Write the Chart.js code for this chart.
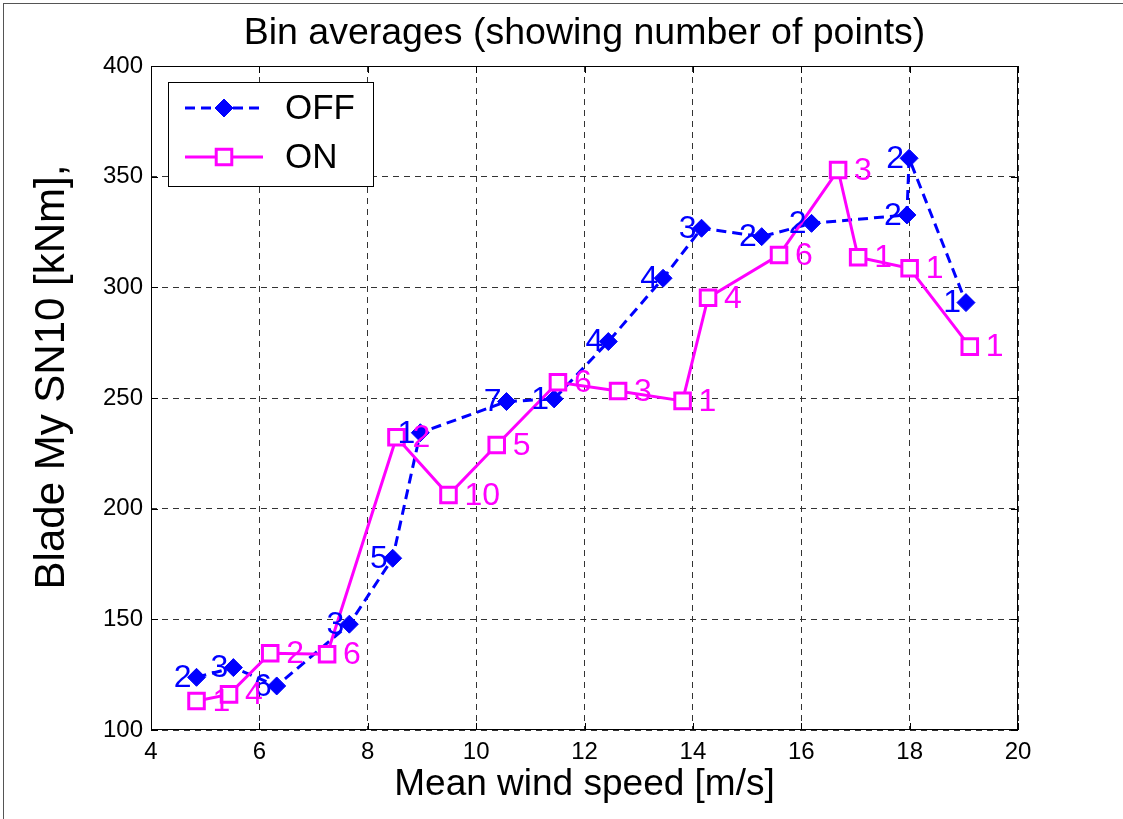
<!DOCTYPE html>
<html>
<head>
<meta charset="utf-8">
<script src="https://cdn.jsdelivr.net/npm/chart.js@4.4.1/dist/chart.umd.min.js"></script>
<style>
  html, body { margin: 0; padding: 0; background: #fff; }
  #wrap { position: relative; width: 1123px; height: 819px; }
  #frame { position: absolute; left: 3px; top: 3px; right: -2px; bottom: -2px;
           border-top: 1px solid #555; border-left: 1px solid #555; pointer-events: none; }
</style>
</head>
<body>
<div id="wrap">
  <canvas id="c" width="1123" height="819"></canvas>
  <div id="frame"></div>
</div>
<script>
// Bin averages
const offSpeed  = [4.84, 5.52, 6.32, 7.66, 8.46, 8.97, 10.56, 11.44, 12.44, 13.45, 14.16, 15.27, 16.19, 17.95, 17.99, 19.04];
const offMoment = [123.8, 128.2, 119.9, 147.8, 177.6, 234.3, 248.4, 249.6, 275.5, 304.1, 326.7, 322.9, 328.9, 332.7, 358.3, 293.1];
const offCount  = ['2', '3', '6', '3', '5', '1', '7', '1', '4', '4', '3', '2', '2', '2', '2', '1'];

const onSpeed   = [4.84, 5.44, 6.20, 7.25, 8.53, 9.49, 10.38, 11.51, 12.62, 13.81, 14.28, 15.59, 16.68, 17.05, 18.00, 19.11];
const onMoment  = [113.1, 116.1, 134.7, 134.2, 232.3, 206.2, 228.8, 257.1, 253.2, 248.7, 295.3, 314.6, 353.0, 313.6, 308.6, 273.2];
const onCount   = ['1', '4', '2', '6', '2', '10', '5', '6', '3', '1', '4', '6', '3', '1', '1', '1'];

const xTicks = [4, 6, 8, 10, 12, 14, 16, 18, 20];
const yTicks = [100, 150, 200, 250, 300, 350, 400];

const titleText = 'Bin averages (showing number of points)';
const yTitleText = 'Blade My SN10 [kNm],';

const FONT = "'Liberation Sans', Arial, sans-serif";
const BLUE = '#0000ff';
const MAGENTA = '#ff00ff';

const toPoints = (xs, ys) => xs.map((x, i) => ({ x, y: ys[i] }));

// titles, count labels, matlab style box with inner ticks, legend
const annotate = {
  id: 'annotate',
  afterDatasetsDraw(chart) {
    const { ctx, chartArea: a, scales } = chart;
    ctx.save();

    // titles
    ctx.fillStyle = '#000';
    ctx.textAlign = 'center';
    ctx.textBaseline = 'middle';
    ctx.font = '37.5px ' + FONT;
    ctx.fillText(titleText, (a.left + a.right) / 2, 34);
    ctx.save();
    ctx.translate(52, 377);
    ctx.rotate(-Math.PI / 2);
    ctx.font = '42px ' + FONT;
    ctx.fillText(yTitleText, 0, 0);
    ctx.restore();

    // axes box and inward ticks
    ctx.strokeStyle = '#000';
    ctx.lineWidth = 1;
    ctx.setLineDash([]);
    ctx.strokeRect(a.left + 0.5, a.top + 0.5, a.width - 1, a.height - 1);
    ctx.beginPath();
    xTicks.forEach(v => {
      const px = Math.round(scales.x.getPixelForValue(v)) + 0.5;
      ctx.moveTo(px, a.bottom); ctx.lineTo(px, a.bottom - 7);
      ctx.moveTo(px, a.top); ctx.lineTo(px, a.top + 7);
    });
    yTicks.forEach(v => {
      const py = Math.round(scales.y.getPixelForValue(v)) + 0.5;
      ctx.moveTo(a.left, py); ctx.lineTo(a.left + 7, py);
      ctx.moveTo(a.right, py); ctx.lineTo(a.right - 7, py);
    });
    ctx.stroke();

    // point counts
    ctx.font = '32px ' + FONT;
    ctx.textBaseline = 'middle';
    const offMeta = chart.getDatasetMeta(0);
    ctx.fillStyle = BLUE;
    ctx.textAlign = 'right';
    offMeta.data.forEach((pt, i) => ctx.fillText(offCount[i], pt.x - 5, pt.y + 1));
    const onMeta = chart.getDatasetMeta(1);
    ctx.fillStyle = MAGENTA;
    ctx.textAlign = 'left';
    onMeta.data.forEach((pt, i) => ctx.fillText(onCount[i], pt.x + 16, pt.y + 1));

    // legend box
    const lx = 168, ly = 82, lw = 205, lh = 104;
    ctx.fillStyle = '#fff';
    ctx.fillRect(lx, ly, lw, lh);
    ctx.strokeStyle = '#000';
    ctx.lineWidth = 1;
    ctx.strokeRect(lx + 0.5, ly + 0.5, lw, lh);
    const rows = [
      { ds: chart.data.datasets[0], y: 108, label: 'OFF' },
      { ds: chart.data.datasets[1], y: 157, label: 'ON' }
    ];
    rows.forEach(r => {
      ctx.strokeStyle = r.ds.borderColor;
      ctx.lineWidth = r.ds.borderWidth;
      ctx.setLineDash(r.ds.borderDash || []);
      ctx.beginPath();
      ctx.moveTo(185, r.y); ctx.lineTo(263, r.y);
      ctx.stroke();
      ctx.setLineDash([]);
      ctx.fillStyle = r.ds.pointBackgroundColor;
      ctx.strokeStyle = r.ds.pointBorderColor;
      ctx.lineWidth = r.ds.pointBorderWidth;
      Chart.helpers.drawPoint(ctx, {
        pointStyle: r.ds.pointStyle,
        radius: r.ds.pointRadius,
        borderWidth: r.ds.pointBorderWidth
      }, 224, r.y);
      ctx.fillStyle = '#000';
      ctx.textAlign = 'left';
      ctx.font = '35px ' + FONT;
      ctx.fillText(r.label, 285, r.y + 1);
    });
    ctx.restore();
  }
};

new Chart(document.getElementById('c'), {
  type: 'line',
  data: {
    datasets: [
      {
        label: 'OFF',
        data: toPoints(offSpeed, offMoment),
        borderColor: BLUE,
        borderWidth: 3,
        borderDash: [10, 6],
        pointStyle: 'rectRot',
        pointRadius: 9,
        pointBackgroundColor: BLUE,
        pointBorderColor: BLUE,
        pointBorderWidth: 1,
        tension: 0,
        fill: false,
        order: 1
      },
      {
        label: 'ON',
        data: toPoints(onSpeed, onMoment),
        borderColor: MAGENTA,
        borderWidth: 3,
        pointStyle: 'rect',
        pointRadius: 11,
        pointBackgroundColor: '#fff',
        pointBorderColor: MAGENTA,
        pointBorderWidth: 3,
        tension: 0,
        fill: false,
        order: 0
      }
    ]
  },
  options: {
    responsive: false,
    animation: false,
    layout: { padding: { left: 0, right: 105, top: 66, bottom: 0 } },
    plugins: {
      legend: { display: false },
      tooltip: { enabled: false },
      title: { display: false }
    },
    scales: {
      x: {
        type: 'linear',
        min: 4, max: 20,
        afterFit: s => { s.height = 89; },
        afterBuildTicks: s => { s.ticks = xTicks.map(v => ({ value: v })); },
        grid: { color: '#333', lineWidth: 1, drawTicks: false },
        border: { display: false, dash: [6, 5] },
        ticks: { color: '#000', padding: 8, maxRotation: 0, font: { family: FONT, size: 24 } },
        title: {
          display: true,
          text: 'Mean wind speed [m/s]',
          color: '#000',
          font: { family: FONT, size: 37 },
          padding: { top: 0, bottom: 12 }
        }
      },
      y: {
        type: 'linear',
        min: 100, max: 400,
        afterFit: s => { s.width = 151; },
        afterBuildTicks: s => { s.ticks = yTicks.map(v => ({ value: v })); },
        grid: { color: '#333', lineWidth: 1, drawTicks: false },
        border: { display: false, dash: [6, 5] },
        ticks: { color: '#000', padding: 8, font: { family: FONT, size: 24 } }
      }
    }
  },
  plugins: [annotate]
});
</script>
</body>
</html>
